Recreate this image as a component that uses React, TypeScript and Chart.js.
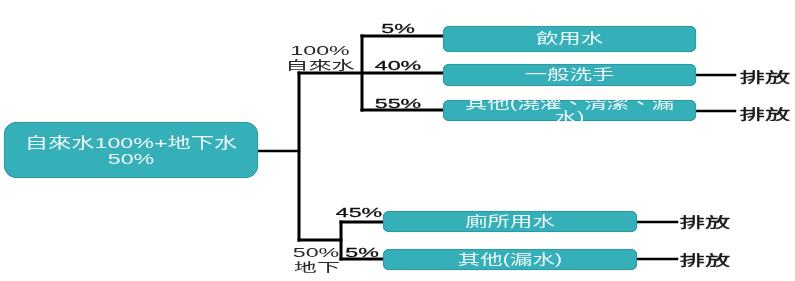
import { useEffect, useRef } from "react";
import { Chart, registerables } from "chart.js";

Chart.register(...registerables);

// Boxes (coordinates in diagram units, 1 unit = 1 px)
const boxLabels = ["自來水100%+地下水\n50%", "飲用水", "一般洗手", "其他(澆灌、清潔、漏\n水)", "廁所用水", "其他(漏水)"];
const boxStart = [4, 443, 443, 443, 383, 383];
const boxEnd = [258, 696, 696, 696, 637, 637];
const boxTop = [122, 26, 64, 100, 211, 249];
const boxBottom = [178, 52, 86, 121, 232, 270];

// Connector segments: [x1, y1, x2, y2]
const connectorX1 = [258, 299, 299, 299, 362, 362, 362, 341, 341, 341, 696, 696, 637, 637];
const connectorY1 = [151, 73, 73, 240, 36, 36, 110, 222, 222, 259, 75, 111, 222, 259];
const connectorX2 = [299, 299, 443, 341, 362, 443, 443, 341, 383, 383, 735, 735, 677, 677];
const connectorY2 = [151, 240, 73, 240, 110, 36, 110, 259, 222, 259, 75, 111, 222, 259];
const connectorWidth = [2.5, 3, 3, 3, 3, 3, 3, 3, 3, 3, 2.5, 2.5, 2.5, 2.5];

// Share labels
const shareLabels = ["5%", "100%", "自來水", "40%", "55%", "45%", "50%", "5%", "地下"];
const shareX = [398, 320, 320, 398, 398, 359, 316, 362, 317];
const shareY = [29, 51, 67, 66, 104, 213, 253, 253, 269];
const shareHeavy = [true, false, false, true, true, true, false, true, false];

// Outlet labels
const outletLabels = ["排放", "排放", "排放", "排放"];
const outletX = [765, 765, 705, 705];
const outletY = [78, 115, 223, 261];

const FONT = '"Liberation Sans", "Noto Sans CJK TC", sans-serif';

function drawStretched(
  ctx: CanvasRenderingContext2D, text: string, x: number, y: number,
  font: string, color: string, sx: number, stroke = 0
) {
  ctx.save();
  ctx.font = font;
  ctx.fillStyle = color;
  ctx.strokeStyle = color;
  ctx.textAlign = "center";
  ctx.textBaseline = "middle";
  ctx.translate(x, y);
  ctx.scale(sx, 1);
  ctx.fillText(text, 0, 0);
  if (stroke > 0) {
    ctx.lineWidth = stroke;
    ctx.lineJoin = "round";
    ctx.strokeText(text, 0, 0);
  }
  ctx.restore();
}

const textPlugin = {
  id: "flowText",
  afterDatasetsDraw(chart: any) {
    const ctx: CanvasRenderingContext2D = chart.ctx;
    const xs = chart.scales.x;
    const ys = chart.scales.y;
    boxLabels.forEach((label, i) => {
      const x0 = xs.getPixelForValue(boxStart[i]);
      const x1 = xs.getPixelForValue(boxEnd[i]);
      const y0 = ys.getPixelForValue(boxTop[i]);
      const y1 = ys.getPixelForValue(boxBottom[i]);
      const lines = label.split("\n");
      const main = i === 0;
      const size = main ? 15 : 14;
      const lh = main ? 16 : 13.5;
      const cx = (x0 + x1) / 2;
      const cy = (y0 + y1) / 2 + (main ? 1.5 : 0.5);
      ctx.save();
      ctx.beginPath();
      ctx.rect(x0, y0, x1 - x0, y1 - y0);
      ctx.clip();
      lines.forEach((ln, k) => {
        const yy = cy + (k - (lines.length - 1) / 2) * lh;
        drawStretched(ctx, ln, cx, yy, `${size}px ${FONT}`, "#eef7f8", main ? 1.55 : 1.6);
      });
      ctx.restore();
    });
    shareLabels.forEach((t, i) => {
      const cjk = /[^\x00-\x7f]/.test(t);
      drawStretched(
        ctx, t, xs.getPixelForValue(shareX[i]), ys.getPixelForValue(shareY[i]),
        `${cjk ? 12.5 : 13.5}px ${FONT}`, shareHeavy[i] ? "#111111" : "#2a2a2a",
        cjk ? 1.85 : 1.72, shareHeavy[i] ? 0.3 : 0
      );
    });
    outletLabels.forEach((t, i) => {
      drawStretched(
        ctx, t, xs.getPixelForValue(outletX[i]), ys.getPixelForValue(outletY[i]),
        `14px ${FONT}`, "#1a1a1a", 1.8, 0.35
      );
    });
  },
};

export default function App() {
  const ref = useRef<HTMLCanvasElement | null>(null);
  useEffect(() => {
    document.body.style.margin = "0";
    const canvas = ref.current;
    if (!canvas) return;
    const boxDatasets = boxLabels.map((label, i) => ({
      type: "bar" as const,
      label,
      indexAxis: "y" as const,
      data: [{ x: [boxStart[i], boxEnd[i]], y: (boxTop[i] + boxBottom[i]) / 2 }],
      barThickness: boxBottom[i] - boxTop[i],
      grouped: false,
      backgroundColor: "#35afb8",
      borderColor: "#2b939c",
      borderWidth: 1,
      borderSkipped: false,
      borderRadius: i === 0 ? 13 : 6,
      order: 1,
    }));
    const lineDatasets = connectorX1.map((x1, i) => ({
      type: "line" as const,
      label: "c" + i,
      data: [
        { x: x1, y: connectorY1[i] },
        { x: connectorX2[i], y: connectorY2[i] },
      ],
      borderColor: "#000000",
      borderWidth: connectorWidth[i],
      pointRadius: 0,
      fill: false,
      tension: 0,
      borderCapStyle: "square" as const,
      order: 2,
    }));
    const chart = new Chart(canvas, {
      type: "bar",
      data: { datasets: [...boxDatasets, ...lineDatasets] as any },
      options: {
        animation: false,
        responsive: false,
        layout: { padding: 0 },
        plugins: { legend: { display: false }, tooltip: { enabled: false } },
        scales: {
          x: { type: "linear", min: 0, max: 795, display: false, offset: false, grace: 0 },
          y: { type: "linear", min: 0, max: 281, reverse: true, display: false, offset: false, grace: 0 },
        },
      } as any,
      plugins: [textPlugin],
    });
    return () => chart.destroy();
  }, []);
  return (
    <div style={{ width: 795, height: 281, background: "#ffffff" }}>
      <canvas ref={ref} width={795} height={281} style={{ display: "block" }} />
    </div>
  );
}
